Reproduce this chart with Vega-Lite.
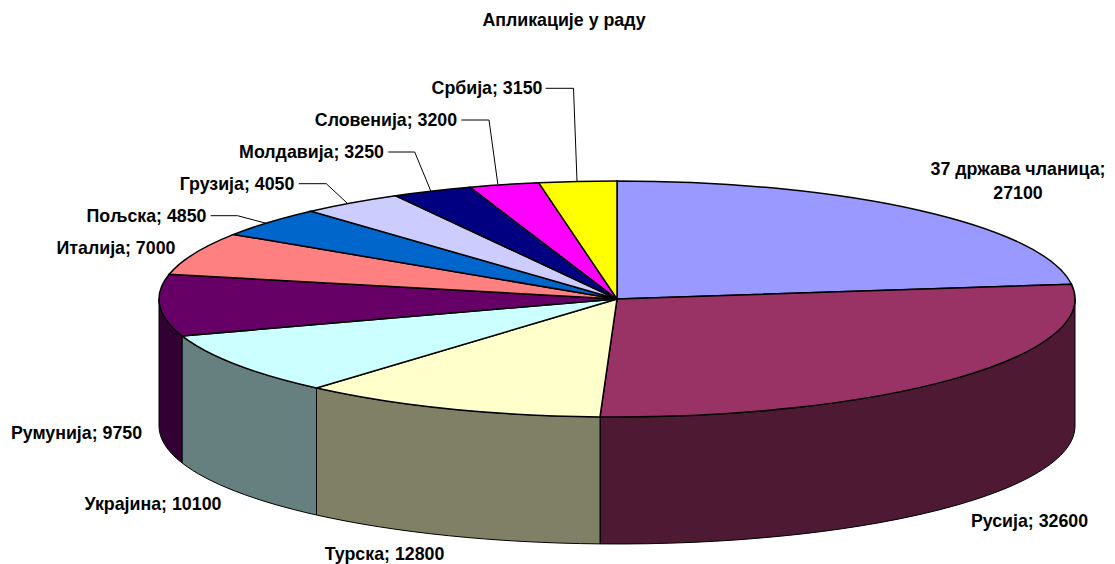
{
"$schema":"https://vega.github.io/schema/vega-lite/v6.json",
"width":1115,"height":564,"padding":0,"autosize":{"type":"none"},
"background":"white",
"title":{"text":"Апликације у раду","font":"Liberation Sans","fontSize":17.8,"fontWeight":"bold","color":"black","anchor":"middle","dx":6.5,"offset":-29.5},
"config":{"view":{"stroke":null}},
"datasets":{
"slices":[
{"name":"37 држава чланица","value":27100},
{"name":"Русија","value":32600},
{"name":"Турска","value":12800},
{"name":"Украјина","value":10100},
{"name":"Румунија","value":9750},
{"name":"Италија","value":7000},
{"name":"Пољска","value":4850},
{"name":"Грузија","value":4050},
{"name":"Молдавија","value":3250},
{"name":"Словенија","value":3200},
{"name":"Србија","value":3150}
],
"labels":[
{"label":"37 држава чланица;\n27100","px":1018,"py":169},
{"label":"Русија; 32600","px":1029.5,"py":521},
{"label":"Турска; 12800","px":384.5,"py":553.5},
{"label":"Украјина; 10100","px":153,"py":504},
{"label":"Румунија; 9750","px":76.5,"py":433},
{"label":"Италија; 7000","px":116,"py":248},
{"label":"Пољска; 4850","px":146.5,"py":216},
{"label":"Грузија; 4050","px":237,"py":184},
{"label":"Молдавија; 3250","px":311.5,"py":152},
{"label":"Словенија; 3200","px":386,"py":120},
{"label":"Србија; 3150","px":487,"py":88}
]},
"layer":[
{"data":{"name":"slices"},
"transform":[{"filter":{"field":"name","oneOf":["Русија","Турска","Украјина","Румунија"]}}],
"mark":{"type":"point","filled":true,"opacity":1,"stroke":"black","strokeWidth":1},
"encoding":{"size":{"value":4},
"x":{"datum":617,"type":"quantitative","scale":{"domain":[0,1115],"nice":false,"zero":false},"axis":null},
"y":{"datum":299,"type":"quantitative","scale":{"domain":[564,0],"nice":false,"zero":false},"axis":null},
"fill":{"field":"name","type":"nominal","legend":null,"scale":{"domain":["Русија","Турска","Украјина","Румунија"],"range":["#4D1933","#808066","#668080","#330033"]}},
"shape":{"field":"name","type":"nominal","legend":null,"scale":{"domain":["Русија","Турска","Украјина","Румунија"],"range":[
"M458 0A458 118 0 0 1 -17 117.9L-17 244.9A458 118 0 0 0 458 127Z",
"M-17 117.9A458 118 0 0 1 -300.5 89L-300.5 216A458 118 0 0 0 -17 244.9Z",
"M-300.5 89A458 118 0 0 1 -435 36.9L-435 163.9A458 118 0 0 0 -300.5 216Z",
"M-435 36.9A458 118 0 0 1 -458 0L-458 127A458 118 0 0 0 -435 163.9Z"
]}}}},
{"data":{"name":"slices"},
"mark":{"type":"point","filled":true,"opacity":1,"stroke":"black","strokeWidth":1.5},
"encoding":{"size":{"value":4},
"x":{"datum":617,"type":"quantitative"},
"y":{"datum":299,"type":"quantitative"},
"fill":{"field":"name","type":"nominal","legend":null,"scale":{"domain":["37 држава чланица","Русија","Турска","Украјина","Румунија","Италија","Пољска","Грузија","Молдавија","Словенија","Србија"],"range":["#9999FF","#993366","#FFFFCC","#CCFFFF","#660066","#FF8080","#0066CC","#CCCCFF","#000080","#FF00FF","#FFFF00"]}},
"shape":{"field":"name","type":"nominal","legend":null,"scale":{"domain":["37 држава чланица","Русија","Турска","Украјина","Румунија","Италија","Пољска","Грузија","Молдавија","Словенија","Србија"],"range":[
"M0 0L0 -118A458 118 0 0 1 454.4 -14.8Z",
"M0 0L454.4 -14.8A458 118 0 0 1 -17 117.9Z",
"M0 0L-17 117.9A458 118 0 0 1 -300.5 89Z",
"M0 0L-300.5 89A458 118 0 0 1 -435 36.9Z",
"M0 0L-435 36.9A458 118 0 0 1 -447.8 -24.7Z",
"M0 0L-447.8 -24.7A458 118 0 0 1 -383.3 -64.6Z",
"M0 0L-383.3 -64.6A458 118 0 0 1 -306 -87.8Z",
"M0 0L-306 -87.8A458 118 0 0 1 -221.4 -103.3Z",
"M0 0L-221.4 -103.3A458 118 0 0 1 -147 -111.8Z",
"M0 0L-147 -111.8A458 118 0 0 1 -78.4 -116.3Z",
"M0 0L-78.4 -116.3A458 118 0 0 1 0 -118Z"
]}}}},
{"data":{"name":"slices"},
"transform":[{"filter":{"field":"name","oneOf":["Пољска","Грузија","Молдавија","Словенија","Србија"]}}],
"mark":{"type":"point","filled":false,"opacity":1,"stroke":"black","strokeWidth":1},
"encoding":{"size":{"value":4},
"x":{"datum":617,"type":"quantitative"},
"y":{"datum":299,"type":"quantitative"},
"shape":{"field":"name","type":"nominal","legend":null,"scale":{"domain":["Пољска","Грузија","Молдавија","Словенија","Србија"],"range":[
"M-406.3 -83.3L-379.5 -83.3L-350.8 -75.7",
"M-318.2 -115.3L-290.7 -115.3L-269.6 -95.7",
"M-228.7 -147L-202.3 -147L-186.2 -108",
"M-155.6 -179L-128 -179L-119.2 -115",
"M-71.4 -210.7L-43.5 -210.7L-40 -118"
]}}}},
{"data":{"name":"labels"},
"mark":{"type":"text","font":"Liberation Sans","fontSize":17.8,"fontWeight":"bold","color":"black","align":"center","baseline":"middle","dy":1,"lineBreak":"\n","lineHeight":24},
"encoding":{
"x":{"field":"px","type":"quantitative"},
"y":{"field":"py","type":"quantitative"},
"text":{"field":"label","type":"nominal"}}}
],
"resolve":{"scale":{"shape":"independent","fill":"independent"}}
}
